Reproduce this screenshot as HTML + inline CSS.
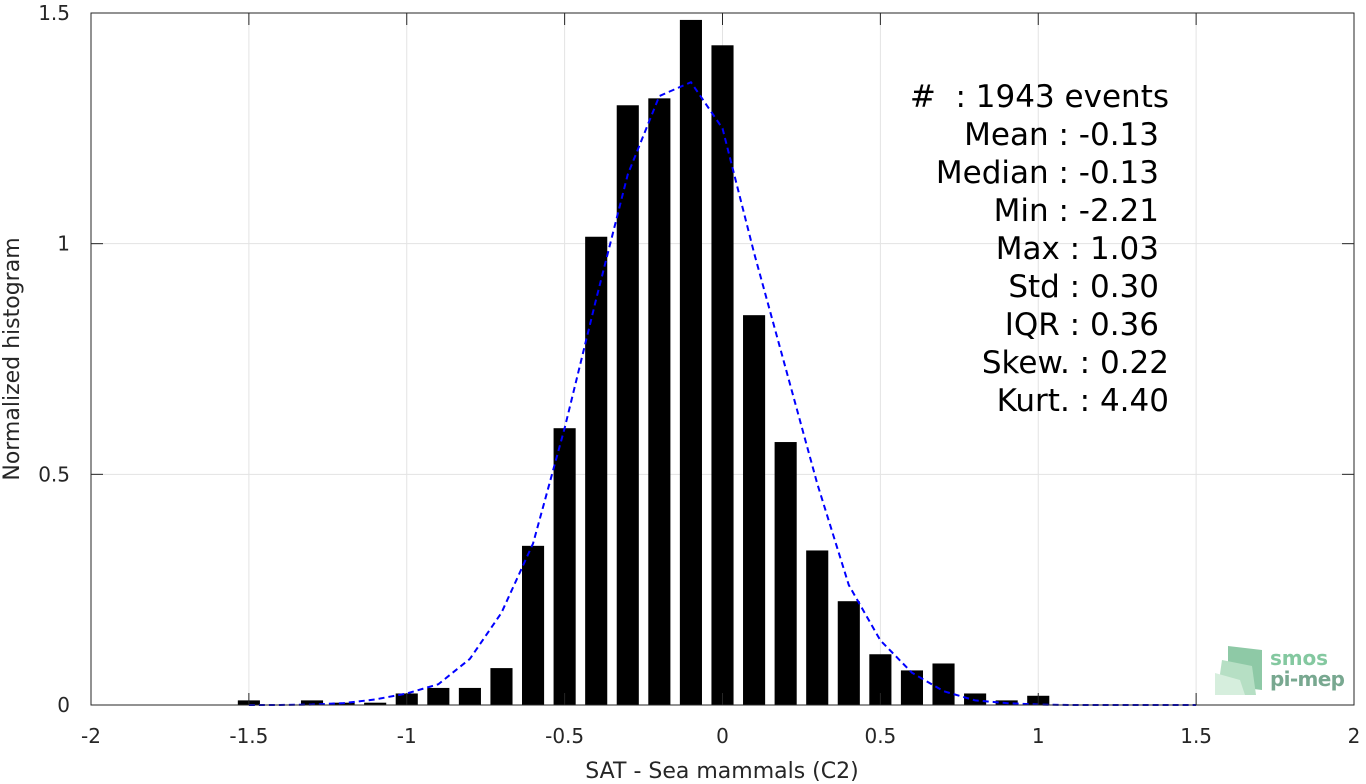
<!DOCTYPE html>
<html><head><meta charset="utf-8"><style>
html,body{margin:0;padding:0;background:#fff;}
svg{display:block;font-family:"DejaVu Sans","Liberation Sans",sans-serif;}
text{white-space:pre;}
</style></head><body>
<svg id="chart" width="1366" height="784"></svg>
<script>
const binCenters=[-1.5,-1.4,-1.3,-1.2,-1.1,-1.0,-0.9,-0.8,-0.7,-0.6,-0.5,-0.4,-0.3,-0.2,-0.1,0,0.1,0.2,0.3,0.4,0.5,0.6,0.7,0.8,0.9,1.0];
const binValues=[0.01,0,0.01,0.005,0.005,0.025,0.037,0.037,0.08,0.345,0.6,1.015,1.30,1.315,1.485,1.43,0.845,0.57,0.335,0.225,0.11,0.075,0.09,0.025,0.01,0.02];
const fitX=[-1.5,-1.4,-1.3,-1.2,-1.1,-1.0,-0.9,-0.8,-0.7,-0.6,-0.5,-0.4,-0.3,-0.2,-0.1,0,0.1,0.2,0.3,0.4,0.5,0.6,0.7,0.8,0.9,1.0,1.1,1.2,1.3,1.4,1.5];
const fitY=[0,0,0.001,0.004,0.012,0.025,0.045,0.1,0.2,0.35,0.6,0.88,1.15,1.32,1.35,1.25,0.98,0.73,0.48,0.26,0.14,0.07,0.03,0.01,0.004,0.001,0,0,0,0,0];
const xTicks=[-2,-1.5,-1,-0.5,0,0.5,1,1.5,2];
const xTickLabels=["-2","-1.5","-1","-0.5","0","0.5","1","1.5","2"];
const yTicks=[0,0.5,1,1.5];
const yTickLabels=["0","0.5","1","1.5"];
const statLines=["#  : 1943 events","Mean : -0.13","Median : -0.13","Min : -2.21","Max : 1.03","Std : 0.30","IQR : 0.36","Skew. : 0.22","Kurt. : 4.40"];

const L=91,R=1354,T=13,B=705;
const X=v=>L+(v+2)/4*(R-L);
const Y=v=>B-v/1.5*(B-T);
const svg=document.getElementById('chart');
const NS='http://www.w3.org/2000/svg';
function mk(tag,attrs,parent){const e=document.createElementNS(NS,tag);for(const k in attrs)e.setAttribute(k,attrs[k]);(parent||svg).appendChild(e);return e;}

const grid=mk('g',{});


xTicks.forEach(t=>{mk('line',{x1:X(t),x2:X(t),y1:T,y2:B,stroke:'#e3e3e3','stroke-width':1},grid);});
yTicks.forEach(t=>{mk('line',{x1:L,x2:R,y1:Y(t),y2:Y(t),stroke:'#e3e3e3','stroke-width':1},grid);});

const bars=mk('g',{});


const bw=0.07*(R-L)/4;
binCenters.forEach((c,i)=>{
  if(binValues[i]<=0)return;
  const r=mk('rect',{x:X(c)-bw/2,y:Y(binValues[i]),width:bw,height:B-Y(binValues[i]),fill:'#000'},bars);
  
  
});

const fit=mk('polyline',{points:fitX.map((x,i)=>X(x)+','+Y(fitY[i])).join(' '),fill:'none',stroke:'#0000ff','stroke-width':2,'stroke-dasharray':'6,4'});



const axes=mk('g',{});


mk('rect',{x:L,y:T,width:R-L,height:B-T,fill:'none',stroke:'#262626','stroke-width':1},axes);
xTicks.forEach((t,i)=>{
  mk('line',{x1:X(t),x2:X(t),y1:B,y2:B-12,stroke:'#262626'},axes);
  mk('line',{x1:X(t),x2:X(t),y1:T,y2:T+12,stroke:'#262626'},axes);
  const tx=mk('text',{x:X(t),y:743,'text-anchor':'middle','font-size':20,fill:'#262626'},axes);
  tx.textContent=xTickLabels[i];
  
  
});
yTicks.forEach((t,i)=>{
  mk('line',{x1:L,x2:L+12,y1:Y(t),y2:Y(t),stroke:'#262626'},axes);
  mk('line',{x1:R,x2:R-12,y1:Y(t),y2:Y(t),stroke:'#262626'},axes);
  const tx=mk('text',{x:70,y:Y(t)+7,'text-anchor':'end','font-size':20,fill:'#262626'},axes);
  tx.textContent=yTickLabels[i];
  
  
});
const xt=mk('text',{x:722,y:778,'text-anchor':'middle','font-size':22,fill:'#262626'});
xt.textContent='SAT - Sea mammals (C2)';


const yt=mk('text',{x:0,y:0,transform:'translate(19,359) rotate(-90)','text-anchor':'middle','font-size':22,fill:'#262626'});
yt.textContent='Normalized histogram';



const stats=mk('g',{});


const ends=[1169,1159,1159,1159,1159,1159,1159,1169,1169];
statLines.forEach((s,i)=>{
  const t=mk('text',{x:ends[i],y:107+i*38,'text-anchor':'end','font-size':31,fill:'#000'},stats);
  t.textContent=s;
  
  
});

const logo=mk('g',{});


mk('polygon',{points:'1228,646 1262,650 1262,690 1228,686',fill:'#8ec9a6'},logo);
mk('polygon',{points:'1222,660 1252,666 1256,695 1217,695',fill:'#b6dfc4'},logo);
mk('polygon',{points:'1215,673 1240,680 1245,695 1215,695',fill:'#d6eedd'},logo);
const l1=mk('text',{x:1270,y:665,'font-size':20,fill:'#84c8a0','font-weight':'bold',textLength:58},logo);l1.textContent='smos';
const l2=mk('text',{x:1270,y:686,'font-size':20,fill:'#78a890','font-weight':'bold',textLength:75},logo);l2.textContent='pi-mep';
</script>
</body></html>
